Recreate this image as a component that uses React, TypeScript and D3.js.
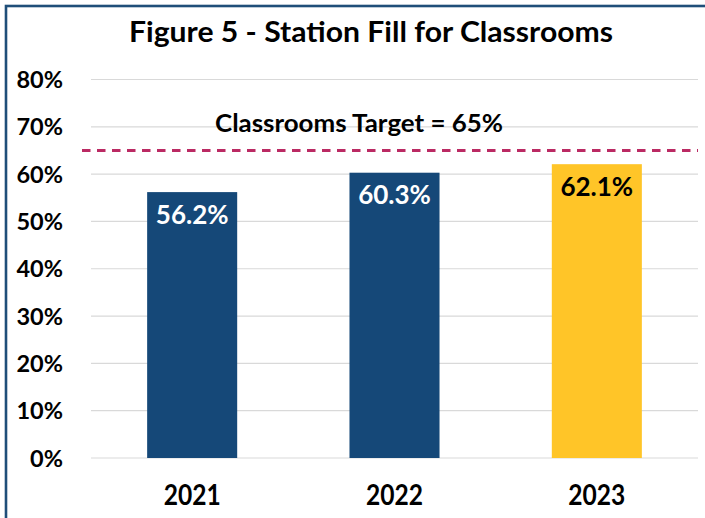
import React from "react";
import * as d3 from "d3";

const categories = ["2021", "2022", "2023"];
const values = [0.562, 0.603, 0.621];
const valueLabels = ["56.2%", "60.3%", "62.1%"];
const barColors = ["#154878", "#154878", "#FFC528"];
const labelColors = ["#FFFFFF", "#FFFFFF", "#000000"];
const yTicks = [0, 0.1, 0.2, 0.3, 0.4, 0.5, 0.6, 0.7, 0.8];
const target = 0.65;
const targetLabel = "Classrooms Target = 65%";
const title = "Figure 5 - Station Fill for Classrooms";

const W = 705;
const H = 518;
const FONT = "Lato, 'Open Sans', sans-serif";

export default function App() {
  const y = d3.scaleLinear().domain([0, 0.8]).range([458, 79.5]);
  const x = d3
    .scaleBand<string>()
    .domain(categories)
    .range([91, 698])
    .paddingInner(0.555)
    .paddingOuter(0.2775);
  const fmt = d3.format(".0%");

  return (
    <svg
      width={W}
      height={H}
      style={{ position: "absolute", left: 0, top: 0, background: "#fff" }}
      fontFamily={FONT}
      fontWeight="bold"
    >
      <rect x={0} y={0} width={W} height={H} fill="#fff" />
      {/* frame */}
      <rect x={6} y={6} width={W + 20} height={H + 20} fill="none" stroke="#1F4E79" strokeWidth={2.6} />

      {/* title */}
      <text x={129} y={41.5} fontSize={28} fill="#000" textLength={484} lengthAdjust="spacingAndGlyphs">
        {title}
      </text>

      {/* gridlines */}
      {yTicks.map((t) => (
        <line key={t} x1={91} x2={698} y1={y(t)} y2={y(t)} stroke="#D9D9D9" strokeWidth={1.2} />
      ))}

      {/* y tick labels */}
      {yTicks.map((t) => (
        <text key={"l" + t} x={63} y={y(t) + 8.5} fontSize={23.5} textAnchor="end" fill="#000">
          {fmt(t)}
        </text>
      ))}

      {/* bars */}
      {categories.map((c, i) => (
        <rect
          key={c}
          x={x(c)!}
          y={y(values[i])}
          width={x.bandwidth()}
          height={y(0) - y(values[i])}
          fill={barColors[i]}
        />
      ))}

      {/* value labels */}
      {categories.map((c, i) => (
        <text
          key={"v" + c}
          x={x(c)! + x.bandwidth() / 2}
          y={y(values[i]) + 31.5}
          fontSize={26}
          textAnchor="middle"
          fill={labelColors[i]}
        >
          {valueLabels[i]}
        </text>
      ))}

      {/* target line */}
      <line
        x1={82}
        x2={698}
        y1={y(target)}
        y2={y(target)}
        stroke="#BB2A63"
        strokeWidth={3}
        strokeDasharray="8.5 6.5"
      />
      <text x={215} y={131.5} fontSize={24} fill="#000" textLength={288} lengthAdjust="spacingAndGlyphs">
        {targetLabel}
      </text>

      {/* x labels */}
      {categories.map((c) => (
        <text
          key={"x" + c}
          x={x(c)! + x.bandwidth() / 2 - 28.5}
          y={505}
          fontSize={28}
          fill="#000"
          textLength={57}
          lengthAdjust="spacingAndGlyphs"
        >
          {c}
        </text>
      ))}
    </svg>
  );
}
